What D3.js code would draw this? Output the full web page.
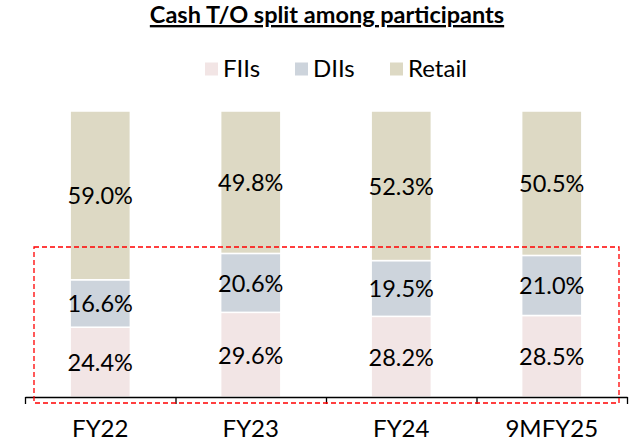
<!DOCTYPE html>
<html>
<head>
<meta charset="utf-8">
<script src="https://cdn.jsdelivr.net/npm/d3@7"></script>
<style>
  body { margin: 0; background: #fff; }
  text { font-family: Lato, "Open Sans", sans-serif; fill: #000; }
</style>
</head>
<body>
<div class="chart"></div>
<script>
// 資料
const categories = ['FY22', 'FY23', 'FY24', '9MFY25'];
const seriesNames = ['FIIs', 'DIIs', 'Retail'];
const fiis = [24.4, 29.6, 28.2, 28.5];
const diis = [16.6, 20.6, 19.5, 21.0];
const retail = [59.0, 49.8, 52.3, 50.5];
const colors = ['#F2E5E5', '#CDD4DC', '#DDD9C4'];

const rows = categories.map((c, i) => ({ cat: c, FIIs: fiis[i], DIIs: diis[i], Retail: retail[i] }));
const stacked = d3.stack().keys(seriesNames)(rows);

const svg_width = 633;
const svg_height = 442;
const svg = d3.select('.chart').append('svg')
    .attr('width', svg_width).attr('height', svg_height);

// scales
const xScale = d3.scaleBand()
    .domain(categories)
    .range([25, 627])
    .paddingInner(0.6).paddingOuter(0.3);
const yScale = d3.scaleLinear()
    .domain([0, 100])
    .range([397, 111]);

// bars
const layers = svg.append('g').attr('class', 'bars')
    .selectAll('g').data(stacked).enter()
    .append('g')
    .style('fill', (d, i) => colors[i]);

layers.selectAll('rect')
    .data(d => d).enter()
    .append('rect')
    .attr('x', d => xScale(d.data.cat))
    .attr('y', d => yScale(d[1]))
    .attr('width', xScale.bandwidth())
    .attr('height', d => yScale(d[0]) - yScale(d[1]))
    .style('stroke', '#fff').style('stroke-width', 1.5);

// labels
layers.selectAll('text')
    .data(d => d.map(v => ({ v, key: d.key }))).enter()
    .append('text')
    .attr('x', d => xScale(d.v.data.cat) + xScale.bandwidth() / 2)
    .attr('y', d => (yScale(d.v[0]) + yScale(d.v[1])) / 2)
    .attr('text-anchor', 'middle')
    .style('dominant-baseline', 'central')
    .style('font-size', '23.5px')
    .style('fill', '#000')
    .text(d => d.v.data[d.key].toFixed(1) + '%');

// x axis: ticks at category boundaries
const edgeScale = d3.scaleLinear().domain([0, categories.length]).range(xScale.range());
svg.append('g')
    .attr('transform', 'translate(0,397)')
    .call(d3.axisBottom(edgeScale).tickValues(d3.range(categories.length + 1))
        .tickSize(7).tickSizeOuter(0).tickFormat(''))
    .call(g => g.selectAll('line, path').style('stroke', '#000').style('stroke-width', 1.3));

svg.append('g')
    .attr('transform', 'translate(0,397)')
    .call(d3.axisBottom(xScale).tickSize(0).tickPadding(40))
    .call(g => g.select('.domain').remove())
    .call(g => g.selectAll('text')
        .style('font-family', 'Lato, sans-serif')
        .style('font-size', '24px').attr('dy', '0'));

// 紅色虛線框 (annotation)
svg.append('rect')
    .attr('x', 34).attr('y', 247)
    .attr('width', 585).attr('height', 156)
    .style('fill', 'none')
    .style('stroke', '#FF0000')
    .style('stroke-width', 1.3)
    .style('stroke-dasharray', '5,3');

// title
svg.append('text')
    .attr('x', 327).attr('y', 23)
    .attr('text-anchor', 'middle')
    .style('font-size', '23.5px').style('font-weight', 'bold')
    .style('text-decoration', 'underline')
    .text('Cash T/O split among participants');

// legend
const legendX = [205, 295, 390];
const legend = svg.append('g').attr('class', 'legend')
    .selectAll('g').data(seriesNames).enter()
    .append('g')
    .attr('transform', (d, i) => `translate(${legendX[i]},69)`);
legend.append('rect')
    .attr('x', 0).attr('y', -6.5).attr('width', 13).attr('height', 13)
    .style('fill', (d, i) => colors[i]);
legend.append('text')
    .attr('x', 18).attr('y', 8)
    .style('font-size', '24px')
    .text(d => d);
</script>
</body>
</html>
